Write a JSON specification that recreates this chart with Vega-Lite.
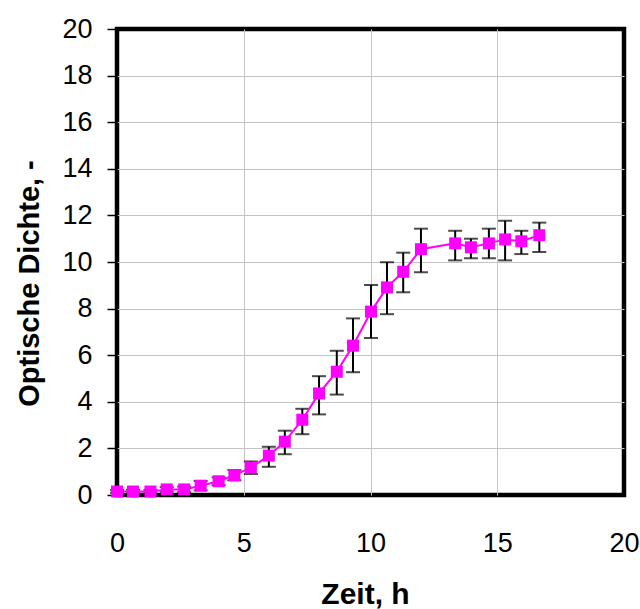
{
  "$schema": "https://vega.github.io/schema/vega-lite/v6.json",
  "autosize": {"type": "none"},
  "padding": {"left": 117, "top": 29, "right": 16, "bottom": 114},
  "width": 507,
  "height": 466,
  "background": "white",
  "config": {
    "view": {"stroke": "black", "strokeWidth": 4.5},
    "font": "Liberation Sans",
    "axis": {
      "labelFont": "Liberation Sans",
      "titleFont": "Liberation Sans",
      "labelColor": "black",
      "titleColor": "black",
      "gridColor": "#c4c4c4",
      "gridWidth": 1,
      "gridOpacity": {"condition": {"test": "datum.value === 0 || datum.value === 20", "value": 0}, "value": 1},
      "domain": false
    }
  },
  "data": {
    "values": [
      {"t": 0.0, "od": 0.15, "lo": 0.09, "hi": 0.21},
      {"t": 0.63, "od": 0.15, "lo": 0.08, "hi": 0.22},
      {"t": 1.32, "od": 0.15, "lo": 0.08, "hi": 0.22},
      {"t": 1.96, "od": 0.24, "lo": 0.14, "hi": 0.34},
      {"t": 2.65, "od": 0.24, "lo": 0.12, "hi": 0.36},
      {"t": 3.3, "od": 0.4, "lo": 0.2, "hi": 0.6},
      {"t": 4.01, "od": 0.59, "lo": 0.42, "hi": 0.76},
      {"t": 4.63, "od": 0.85, "lo": 0.63, "hi": 1.07},
      {"t": 5.28, "od": 1.17, "lo": 0.9, "hi": 1.44},
      {"t": 5.99, "od": 1.69, "lo": 1.21, "hi": 2.07},
      {"t": 6.62, "od": 2.29, "lo": 1.75, "hi": 2.76},
      {"t": 7.31, "od": 3.23, "lo": 2.61, "hi": 3.7},
      {"t": 7.97, "od": 4.36, "lo": 3.46, "hi": 5.1},
      {"t": 8.67, "od": 5.29, "lo": 4.31, "hi": 6.19},
      {"t": 9.31, "od": 6.41, "lo": 5.27, "hi": 7.58},
      {"t": 10.02, "od": 7.87, "lo": 6.74, "hi": 9.01},
      {"t": 10.65, "od": 8.91, "lo": 7.76, "hi": 9.99},
      {"t": 11.29, "od": 9.58, "lo": 8.7, "hi": 10.4},
      {"t": 11.99, "od": 10.55, "lo": 9.56, "hi": 11.43},
      {"t": 13.34, "od": 10.8, "lo": 10.07, "hi": 11.34},
      {"t": 13.96, "od": 10.63, "lo": 10.16, "hi": 11.0},
      {"t": 14.67, "od": 10.8, "lo": 10.16, "hi": 11.43},
      {"t": 15.31, "od": 10.97, "lo": 10.07, "hi": 11.77},
      {"t": 15.95, "od": 10.89, "lo": 10.34, "hi": 11.34},
      {"t": 16.66, "od": 11.15, "lo": 10.43, "hi": 11.69}
    ]
  },
  "encoding": {
    "x": {
      "field": "t",
      "type": "quantitative",
      "scale": {"domain": [0, 20], "nice": false, "zero": false},
      "axis": {
        "title": "Zeit, h",
        "values": [0, 5, 10, 15, 20],
        "ticks": false,
        "labelFontSize": 27,
        "labelPadding": 35,
        "labelFlush": false,
        "labelOverlap": false,
        "titleFontSize": 30,
        "titleFontWeight": "bold",
        "titleX": 248,
        "titleY": 108,
        "titleBaseline": "alphabetic",
        "titleAnchor": "middle",
        "titleAlign": "center"
      }
    }
  },
  "layer": [
    {
      "mark": {"type": "rule", "color": "black", "strokeWidth": 2},
      "encoding": {
        "y": {
          "field": "lo",
          "type": "quantitative",
          "scale": {"domain": [0, 20], "nice": false},
          "axis": {
            "title": "Optische Dichte, -",
            "values": [0, 2, 4, 6, 8, 10, 12, 14, 16, 18, 20],
            "tickColor": "black",
            "tickWidth": 1.5,
            "tickSize": 10,
            "labelFontSize": 27,
            "labelPadding": 15,
            "labelFlush": false,
            "labelOverlap": false,
            "titleFontSize": 29,
            "titleFontWeight": "bold",
            "titleAngle": -90,
            "titleX": -79,
            "titleY": 254,
            "titleBaseline": "alphabetic",
            "titleAlign": "center"
          }
        },
        "y2": {"field": "hi"}
      }
    },
    {
      "mark": {"type": "tick", "orient": "horizontal", "color": "black", "size": 14, "thickness": 2},
      "encoding": {"y": {"field": "lo", "type": "quantitative"}}
    },
    {
      "mark": {"type": "tick", "orient": "horizontal", "color": "black", "size": 14, "thickness": 2},
      "encoding": {"y": {"field": "hi", "type": "quantitative"}}
    },
    {
      "mark": {"type": "line", "color": "#ff00ff", "strokeWidth": 2},
      "encoding": {"y": {"field": "od", "type": "quantitative"}}
    },
    {
      "mark": {"type": "point", "shape": "square", "filled": true, "color": "#ff00ff", "size": 144, "opacity": 1},
      "encoding": {"y": {"field": "od", "type": "quantitative"}}
    }
  ]
}
